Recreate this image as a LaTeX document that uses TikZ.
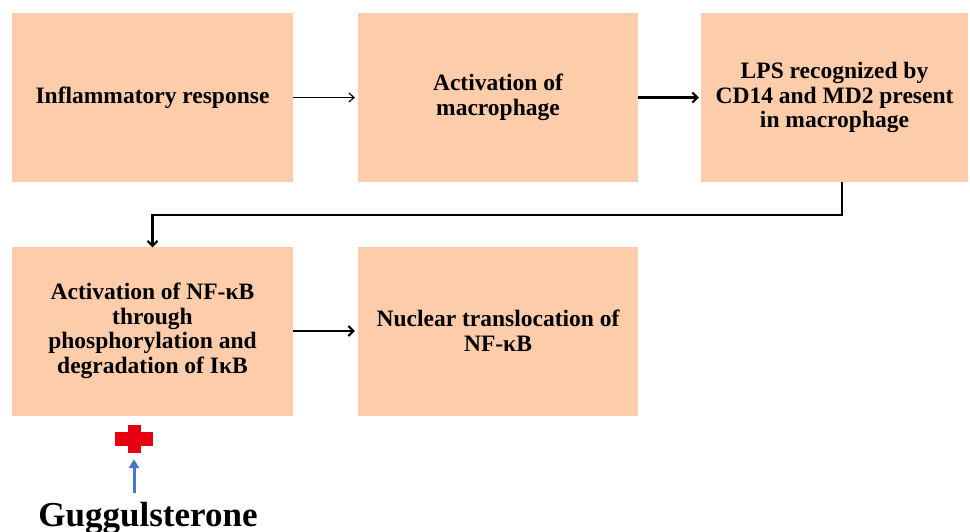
\documentclass[tikz,border=0pt]{standalone}
\usepackage{fontspec}
\setmainfont{Liberation Serif}
\usetikzlibrary{arrows.meta}
\definecolor{boxfill}{RGB}{253,204,170}
\definecolor{crossred}{RGB}{230,0,18}
\definecolor{arrowblue}{RGB}{68,120,200}
\begin{document}
\begin{tikzpicture}[x=1pt,y=-1pt,
  stepbox/.style={fill=boxfill,draw=none,align=center,inner sep=4pt,
    font=\fontsize{23.5}{24.5}\selectfont\bfseries},
  thinarrow/.style={line width=1.2pt,-{Straight Barb[length=5pt,width=9pt,line width=1.2pt]}},
  thickarrow/.style={line width=2.4pt,-{Straight Barb[length=5pt,width=10pt,line width=2pt]}}]
\useasboundingbox (0,0) rectangle (970,532);
\node[stepbox,minimum width=281pt,minimum height=169pt] (b1) at (152.5,97.5) {Inflammatory response};
\node[stepbox,minimum width=280pt,minimum height=169pt] (b2) at (498,97.5) {Activation of\\macrophage};
\node[stepbox,minimum width=267pt,minimum height=169pt] (b3) at (834.5,97.5) {LPS recognized by\\CD14 and MD2 present\\in macrophage};
\node[stepbox,minimum width=281pt,minimum height=169pt] (b4) at (152.5,331) {Activation of NF-κB\\through\\phosphorylation and\\degradation of IκB};
\node[stepbox,minimum width=280pt,minimum height=169pt] (b5) at (498,331) {Nuclear translocation of\\NF-κB};
\draw[thinarrow] (b1.east) -- ([xshift=-3pt]b2.west);
\draw[thickarrow] (b2.east) -- ([xshift=-2pt]b3.west);
\draw[thickarrow] ([xshift=7.5pt]b3.south) -- ++(0,33) -| ([yshift=-1pt]b4.north);
\draw[thickarrow] (b4.east) -- ([xshift=-3pt]b5.west);
\node[minimum width=38pt,minimum height=28pt,inner sep=0pt] (cross) at (134,439) {};
\fill[crossred] ([xshift=-6.5pt]cross.north) rectangle ([xshift=6.5pt]cross.south);
\fill[crossred] ([yshift=-7pt]cross.west) rectangle ([yshift=7pt]cross.east);
\node[font=\fontsize{35}{38}\selectfont\bfseries,inner sep=0pt] (gug) at (148,518) {Guggulsterone};
\draw[arrowblue,line width=3pt,-{Triangle[length=9pt,width=10pt]}] ([yshift=9pt]gug.north -| cross.south) -- ([yshift=-6pt]cross.south);
\end{tikzpicture}
\end{document}
